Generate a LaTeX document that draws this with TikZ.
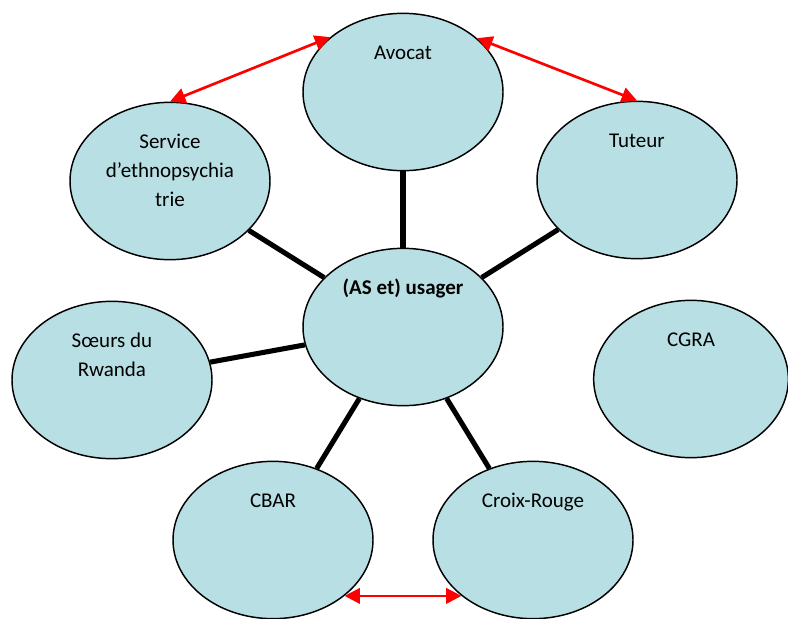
\documentclass[tikz,border=0pt]{standalone}
\usepackage{fontspec}
\setmainfont{Carlito}
\usetikzlibrary{shapes.geometric,arrows.meta}
\definecolor{bulle}{RGB}{184,223,227}

\begin{document}
\begin{tikzpicture}[x=0.75pt,y=-0.75pt,>={Triangle[length=11.5pt,width=11.5pt]},
    main node/.style={ellipse,draw,line width=1.1pt,fill=bulle,inner sep=0pt,minimum width=150pt,minimum height=118pt},
    texte/.style={anchor=base,yshift=-35.25pt,align=center,inner sep=0pt,font=\fontsize{15.75}{21.75}\selectfont}]
            \useasboundingbox (0,0) rectangle (788,618);

            \node[main node, label={[texte]north:\textbf{(AS et) usager}}] (centre) at (403,327) {};
            \node[main node, label={[texte]north:Avocat}] (avocat) at (403,92) {};
            \node[main node, label={[texte,yshift=-43.5pt]north:Service\\d'ethnopsychia\\trie}] (service) at (170,181) {};
            \node[main node, label={[texte]north:Tuteur}] (tuteur) at (637,180) {};
            \node[main node, label={[texte,yshift=-21.75pt]north:Sœurs du\\Rwanda}] (soeurs) at (112,380) {};
            \node[main node, minimum width=146pt, label={[texte]north:CGRA}] (cgra) at (691,379) {};
            \node[main node, label={[texte]north:CBAR}] (cbar) at (273,540) {};
            \node[main node, label={[texte]north:Croix-Rouge}] (croix) at (533,540) {};

            \path[line width=3.8pt]
                (avocat) edge (centre)
                (service) edge (centre)
                (tuteur) edge (centre)
                (soeurs) edge (centre)
                (cbar) edge (centre)
                (croix) edge (centre)
                ;

            \path[<->, red, line width=2pt]
                (service.north) edge (avocat.143)
                (avocat.36) edge (tuteur.north)
                (cbar.-38) edge (croix.-142)
                ;
        \end{tikzpicture}
\end{document}
